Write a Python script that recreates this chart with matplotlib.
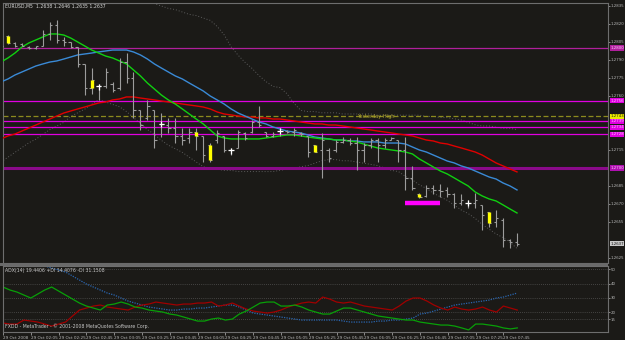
import numpy as np
import matplotlib
matplotlib.use("Agg")
import matplotlib.pyplot as plt
from matplotlib.transforms import blended_transform_factory
from matplotlib.patches import Rectangle

nan = np.nan
header_text = "EURUSD,M5  1.2638 1.2646 1.2635 1.2637"
footer_text = "FXDD - MetaTrader - \u00a9 2001-2008 MetaQuotes Software Corp."
adx_label = "ADX(14) 19.4406 +DI 14.4076 -DI 31.1508"

opens = [1.2807, 1.2810, 1.2804, 1.2803, 1.2801, 1.2800, 1.2802, 1.2812, 1.2819, 1.2807,
         1.2805, 1.2801, 1.2787, 1.2767, 1.2768, 1.2768, 1.2770, 1.2767, 1.2788, 1.2775,
         1.2748, 1.2742, 1.2748, 1.2737, 1.2736, 1.2733, 1.2727, 1.2725, 1.2730, 1.2727,
         1.2719, 1.2723, 1.2727, 1.2715, 1.2717, 1.2729, 1.2730, 1.2738, 1.2730, 1.2727,
         1.2731, 1.2731, 1.2730, 1.2729, 1.2727, 1.2719, 1.2715, 1.2715, 1.2715, 1.2722,
         1.2723, 1.2721, 1.2715, 1.2719, 1.2723, 1.2719, 1.2723, 1.2723, 1.2715, 1.2692,
         1.2678, 1.2677, 1.2683, 1.2682, 1.2682, 1.2678, 1.2671, 1.2671, 1.2671, 1.2669,
         1.2663, 1.2655, 1.2657, 1.2640, 1.2638]
highs = [1.2808, 1.2811, 1.2805, 1.2804, 1.2802, 1.2802, 1.2815, 1.2822, 1.2823, 1.2809,
         1.2805, 1.2801, 1.2787, 1.2783, 1.2770, 1.2783, 1.2772, 1.2792, 1.2796, 1.2780,
         1.2748, 1.2757, 1.2748, 1.2746, 1.2742, 1.2742, 1.2733, 1.2733, 1.2733, 1.2727,
         1.2721, 1.2732, 1.2727, 1.2717, 1.2732, 1.2730, 1.2740, 1.2752, 1.2730, 1.2730,
         1.2733, 1.2732, 1.2733, 1.2730, 1.2727, 1.2719, 1.2729, 1.2717, 1.2723, 1.2726,
         1.2725, 1.2726, 1.2721, 1.2725, 1.2725, 1.2725, 1.2726, 1.2723, 1.2726, 1.2702,
         1.2679, 1.2686, 1.2686, 1.2687, 1.2684, 1.2679, 1.2678, 1.2673, 1.2679, 1.2669,
         1.2663, 1.2665, 1.2658, 1.2641, 1.2646]
lows = [1.2801, 1.2803, 1.2801, 1.2802, 1.2799, 1.2799, 1.2802, 1.2807, 1.2804, 1.2802,
        1.2800, 1.2784, 1.2761, 1.2762, 1.2757, 1.2767, 1.2763, 1.2765, 1.2771, 1.2742,
        1.2732, 1.2740, 1.2717, 1.2726, 1.2729, 1.2721, 1.2719, 1.2721, 1.2715, 1.2705,
        1.2705, 1.2721, 1.2713, 1.2711, 1.2717, 1.2723, 1.2729, 1.2734, 1.2726, 1.2726,
        1.2727, 1.2729, 1.2727, 1.2727, 1.2709, 1.2713, 1.2692, 1.2705, 1.2713, 1.2721,
        1.2719, 1.2698, 1.2705, 1.2717, 1.2705, 1.2717, 1.2723, 1.2705, 1.2682, 1.2682,
        1.2675, 1.2676, 1.2678, 1.2676, 1.2676, 1.2667, 1.2669, 1.2667, 1.2667, 1.2648,
        1.2651, 1.2651, 1.2634, 1.2633, 1.2635]
closes = [1.2802, 1.2804, 1.2802, 1.2802, 1.2800, 1.2802, 1.2812, 1.2819, 1.2807, 1.2805,
          1.2801, 1.2787, 1.2767, 1.2773, 1.2768, 1.2780, 1.2765, 1.2788, 1.2775, 1.2748,
          1.2736, 1.2752, 1.2723, 1.2737, 1.2733, 1.2727, 1.2723, 1.2730, 1.2727, 1.2711,
          1.2707, 1.2729, 1.2715, 1.2715, 1.2730, 1.2725, 1.2738, 1.2736, 1.2727, 1.2728,
          1.2731, 1.2730, 1.2732, 1.2728, 1.2713, 1.2713, 1.2723, 1.2708, 1.2722, 1.2723,
          1.2721, 1.2715, 1.2719, 1.2723, 1.2719, 1.2723, 1.2725, 1.2715, 1.2692, 1.2683,
          1.2676, 1.2683, 1.2682, 1.2681, 1.2678, 1.2671, 1.2673, 1.2671, 1.2673, 1.2661,
          1.2654, 1.2658, 1.2640, 1.2638, 1.2637]
yellow_bars = [1, 13, 28, 30, 45, 60, 70]
white_bars = [14, 23, 33, 40, 67]

ma_green = [1.27883, 1.27917, 1.27958, 1.28008, 1.28042, 1.28067, 1.28092, 1.28117, 1.28117, 1.28108,
            1.28083, 1.28050, 1.28017, 1.27983, 1.27958, 1.27933, 1.27917, 1.27892, 1.27867, 1.27817,
            1.27767, 1.27708, 1.27658, 1.27608, 1.27567, 1.27533, 1.27492, 1.27450, 1.27408, 1.27367,
            1.27317, 1.27267, 1.27250, 1.27242, 1.27242, 1.27242, 1.27242, 1.27242, 1.27250, 1.27258,
            1.27267, 1.27275, 1.27275, 1.27267, 1.27258, 1.27250, 1.27242, 1.27242, 1.27233, 1.27233,
            1.27225, 1.27217, 1.27200, 1.27183, 1.27167, 1.27158, 1.27150, 1.27142, 1.27133, 1.27117,
            1.27075, 1.27042, 1.27008, 1.26975, 1.26950, 1.26917, 1.26883, 1.26850, 1.26800, 1.26767,
            1.26742, 1.26725, 1.26692, 1.26658, 1.26625]
ma_blue = [1.27717, 1.27742, 1.27775, 1.27800, 1.27825, 1.27850, 1.27867, 1.27883, 1.27892, 1.27908,
           1.27925, 1.27942, 1.27950, 1.27958, 1.27967, 1.27975, 1.27983, 1.27983, 1.27983, 1.27967,
           1.27942, 1.27908, 1.27867, 1.27833, 1.27800, 1.27767, 1.27742, 1.27708, 1.27675, 1.27642,
           1.27600, 1.27567, 1.27533, 1.27492, 1.27458, 1.27433, 1.27408, 1.27383, 1.27367, 1.27342,
           1.27325, 1.27308, 1.27300, 1.27292, 1.27275, 1.27258, 1.27250, 1.27242, 1.27233, 1.27233,
           1.27225, 1.27225, 1.27217, 1.27217, 1.27217, 1.27208, 1.27208, 1.27208, 1.27200, 1.27175,
           1.27150, 1.27133, 1.27108, 1.27083, 1.27058, 1.27042, 1.27017, 1.27000, 1.26975, 1.26950,
           1.26925, 1.26908, 1.26875, 1.26850, 1.26817]
ma_red = [1.27242, 1.27267, 1.27283, 1.27308, 1.27333, 1.27358, 1.27383, 1.27408, 1.27433, 1.27458,
          1.27475, 1.27492, 1.27508, 1.27525, 1.27542, 1.27550, 1.27567, 1.27575, 1.27592, 1.27592,
          1.27583, 1.27575, 1.27567, 1.27558, 1.27550, 1.27542, 1.27533, 1.27525, 1.27517, 1.27508,
          1.27492, 1.27467, 1.27450, 1.27442, 1.27433, 1.27425, 1.27425, 1.27417, 1.27417, 1.27408,
          1.27408, 1.27400, 1.27392, 1.27383, 1.27375, 1.27367, 1.27367, 1.27358, 1.27358, 1.27350,
          1.27342, 1.27333, 1.27325, 1.27317, 1.27308, 1.27300, 1.27292, 1.27283, 1.27275, 1.27267,
          1.27250, 1.27233, 1.27225, 1.27208, 1.27200, 1.27183, 1.27167, 1.27150, 1.27133, 1.27108,
          1.27075, 1.27042, 1.27017, 1.26992, 1.26967]
band_upper = [nan, nan, nan, nan, nan, nan, nan, nan, nan, nan,
              nan, nan, nan, nan, 1.2838, 1.2838, 1.2839, 1.2840, 1.2840, 1.2839,
              1.2839, 1.2838, 1.2837, 1.2835, 1.2833, 1.2832, 1.2830, 1.2828, 1.2827, 1.2825,
              1.2823, 1.2818, 1.2811, 1.2801, 1.2794, 1.2788, 1.2783, 1.2777, 1.2772, 1.2768,
              1.2767, 1.2762, 1.2754, 1.2748, 1.2747, 1.2747, 1.2746, 1.2746, 1.2746, 1.2745,
              1.2745, 1.2745, 1.2745, 1.2745, 1.2744, 1.2744, 1.2744, 1.2744, 1.2744, 1.2744,
              1.2744, 1.2743, 1.2743, 1.2742, 1.2742, 1.2741, 1.2740, 1.2738, 1.2736, 1.2735,
              1.2735, 1.2734, 1.2733, 1.2733, 1.2732]
band_lower = [1.2705, 1.2709, 1.2713, 1.2717, 1.2721, 1.2724, 1.2728, 1.2732, 1.2735, 1.2738,
              1.2743, 1.2746, 1.2749, 1.2753, 1.2757, 1.2755, 1.2753, 1.2751, 1.2747, 1.2742,
              1.2737, 1.2732, 1.2728, 1.2723, 1.2719, 1.2716, 1.2713, 1.2709, 1.2705, 1.2701,
              1.2700, 1.2699, 1.2698, 1.2698, 1.2697, 1.2697, 1.2697, 1.2697, 1.2697, 1.2697,
              1.2698, 1.2699, 1.2700, 1.2701, 1.2702, 1.2704, 1.2706, 1.2707, 1.2707, 1.2706,
              1.2706, 1.2705, 1.2704, 1.2703, 1.2702, 1.2700, 1.2698, 1.2697, 1.2693, 1.2690,
              1.2686, 1.2683, 1.2679, 1.2676, 1.2673, 1.2669, 1.2665, 1.2662, 1.2658, 1.2653,
              1.2649, 1.2645, 1.2642, 1.2638, 1.2633]

level_prices = [1.2800, 1.2756, 1.2739, 1.2734, 1.2728]
support_price = 1.2700
yesterday_high = 1.2743
order_price = 1.2671
order_from, order_to = 58, 63
last_price = 1.2637
price_ticks = [1.2835, 1.2820, 1.2805, 1.2790, 1.2775, 1.2760,
               1.2715, 1.2685, 1.2670, 1.2655, 1.2625]

adx_green = [37.6, 35.5, 34.1, 32.0, 29.9, 32.7, 35.5, 37.6, 34.8, 32.0,
             29.2, 26.4, 24.3, 22.9, 21.5, 25.0, 25.7, 27.1, 25.7, 23.6,
             22.9, 21.5, 20.8, 20.1, 18.7, 18.0, 16.6, 15.2, 13.8, 13.8,
             15.2, 15.9, 14.5, 15.2, 18.7, 20.8, 23.6, 26.4, 27.1, 27.1,
             24.3, 24.3, 25.0, 23.6, 21.5, 20.1, 18.7, 18.7, 20.8, 22.9,
             22.9, 21.5, 20.1, 18.7, 17.3, 16.6, 15.9, 15.2, 14.5, 14.5,
             13.1, 12.4, 11.7, 11.0, 11.0, 10.3, 9.0, 7.6, 11.7, 11.7,
             11.0, 10.3, 9.0, 8.3, 9.0]
adx_red = [12.4, 11.7, 11.7, 14.5, 13.8, 13.1, 11.7, 10.3, 11.7, 13.1,
           17.3, 21.5, 22.9, 24.3, 25.0, 23.6, 22.9, 22.2, 21.5, 23.6,
           25.0, 25.7, 27.1, 26.4, 25.7, 25.0, 25.7, 25.7, 26.4, 26.4,
           27.1, 24.3, 25.0, 26.4, 24.3, 22.2, 20.8, 20.1, 19.4, 20.1,
           21.5, 23.6, 25.0, 26.4, 27.1, 26.4, 30.6, 29.2, 27.1, 26.4,
           27.1, 25.7, 24.3, 23.6, 22.9, 22.2, 21.5, 24.3, 27.8, 29.9,
           29.9, 27.8, 25.0, 22.9, 21.5, 23.6, 22.2, 21.5, 22.2, 23.6,
           21.5, 20.1, 24.3, 22.9, 21.5]
adx_blue = [nan, nan, nan, nan, nan, nan, 52.3, 50.9, 49.5, 48.1,
            45.3, 42.5, 39.7, 37.6, 35.5, 33.4, 32.0, 29.9, 27.8, 26.4,
            25.0, 23.6, 22.9, 22.2, 21.5, 21.5, 22.2, 22.2, 22.9, 22.9,
            23.6, 24.3, 25.0, 25.0, 23.6, 21.5, 19.4, 18.7, 18.0, 17.3,
            16.6, 15.9, 15.2, 14.5, 14.5, 14.5, 14.5, 14.5, 14.5, 13.8,
            13.1, 13.1, 13.1, 13.1, 13.8, 13.8, 14.5, 14.5, 15.2, 15.9,
            18.7, 19.4, 20.8, 22.2, 23.6, 25.0, 25.7, 26.4, 27.1, 27.8,
            28.5, 29.9, 30.6, 32.0, 33.4]
adx_levels = [50, 40, 30, 20, 15]

time_tick_bars = list(range(0, 75, 4))
time_labels = ["29 Oct 2008", "29 Oct 02:05", "29 Oct 02:25", "29 Oct 02:45", "29 Oct 03:05",
               "29 Oct 03:25", "29 Oct 03:45", "29 Oct 04:05", "29 Oct 04:25", "29 Oct 04:45",
               "29 Oct 05:05", "29 Oct 05:25", "29 Oct 05:45", "29 Oct 06:05", "29 Oct 06:25",
               "29 Oct 06:45", "29 Oct 07:05", "29 Oct 07:25", "29 Oct 07:45"]

# ---------------------------------------------------------------- drawing
BG = "#1b1a17"
GRID = "#6e6e6e"
TXT = "#b8b8b8"
W, H = 625, 340

fig = plt.figure(figsize=(W / 100, H / 100), dpi=100, facecolor=BG)
ax = fig.add_axes([3 / W, 1 - 263 / H, 605 / W, 260 / H], facecolor=BG)
ax2 = fig.add_axes([3 / W, 1 - 332 / H, 605 / W, 66 / H], facecolor=BG)

n = len(closes)
x = np.arange(n)
for a in (ax, ax2):
    a.set_xlim(0.287, 87.05)
    for s in a.spines.values():
        s.set_color(GRID)
        s.set_linewidth(0.8)
ax.set_ylim(1.26208, 1.28375)
ax2.set_ylim(6.15, 52.3)

# bands (dim dotted)
ax.plot(x, band_upper, color="#5c5c5c", lw=0.7, ls=(0, (1, 2)))
ax.plot(x, band_lower, color="#5c5c5c", lw=0.7, ls=(0, (1, 2)))

# horizontal levels
level_colors = ["#b0209c", "#e000e0", "#e000e0", "#e000e0", "#e000e0"]
for p, c in zip(level_prices, level_colors):
    ax.axhline(p, color=c, lw=0.9, zorder=2)
ax.axhline(support_price, color="#8a0a8a", lw=2.2, zorder=2)
ax.axhline(yesterday_high, color="#8c8a1e", lw=0.9, ls=(0, (4, 2)), zorder=2)
ax.text(51, yesterday_high - 0.00004, "Yesterday High", color="#b0a630",
        fontsize=3.6, va="center", ha="left", zorder=3)
ax.hlines(order_price, order_from, order_to, color="#ff00ff", lw=3.2, zorder=5)

# moving averages
ax.plot(x, ma_red, color="#e00000", lw=1.0, zorder=3)
ax.plot(x, ma_blue, color="#3a8ad6", lw=1.0, zorder=3)
ax.plot(x, ma_green, color="#10d010", lw=1.0, zorder=3)

# OHLC bars
bar_col = "#9c9c9c"
ax.vlines(x, lows, highs, color=bar_col, lw=0.8, zorder=4)
ax.hlines(opens, x - 0.32, x, color=bar_col, lw=0.8, zorder=4)
ax.hlines(closes, x, x + 0.32, color=bar_col, lw=0.8, zorder=4)
for i in yellow_bars:
    lo, hi = min(opens[i], closes[i]), max(opens[i], closes[i])
    ax.vlines(i, lo, hi, color="#ffff00", lw=2.4, zorder=5)
for i in white_bars:
    ax.hlines(closes[i], i - 0.4, i + 0.4, color="white", lw=0.9, zorder=5)
    ax.vlines(i, closes[i] - 0.0003, closes[i] + 0.0002, color="white", lw=0.9, zorder=5)

# price axis
ax.yaxis.tick_right()
ax.set_yticks(price_ticks)
ax.set_yticklabels([f"{p:.4f}" for p in price_ticks])
ax.tick_params(axis="y", labelsize=2.8, colors=TXT, length=1.5, width=0.5, pad=0.6)
ax.tick_params(axis="x", bottom=False, labelbottom=False)

bt = blended_transform_factory(ax.transAxes, ax.transData)
box_specs = [(p, c, "#ffc8ff") for p, c in zip(level_prices, level_colors)]
box_specs += [(support_price, "#b010b0", "#ffc8ff"),
              (yesterday_high, "#e8e800", "#202000"),
              (last_price, "#c8c8c8", "#101010")]
for p, fc, tc in box_specs:
    ax.text(1.0035, p, f"{p:.4f}", transform=bt, fontsize=2.8, color=tc,
            va="center", ha="left", clip_on=False, zorder=10,
            bbox=dict(boxstyle="square,pad=0.15", fc=fc, ec="none"))

fig.text(5 / W, 1 - 6 / H, header_text, fontsize=3.3, color="#d8d8d8", va="center")

# ADX panel
for lv in adx_levels:
    ax2.axhline(lv, color="#6a6a6a", lw=0.5, ls=(0, (1, 2)))
ax2.plot(x, adx_blue, color="#2a66b0", lw=0.9, ls=(0, (1, 1)))
ax2.plot(x, adx_red, color="#a00000", lw=0.9)
ax2.plot(x, adx_green, color="#08a008", lw=0.9)
ax2.yaxis.tick_right()
ax2.set_yticks(adx_levels)
ax2.set_yticklabels([str(v) for v in adx_levels])
ax2.tick_params(axis="y", labelsize=2.8, colors=TXT, length=1.5, width=0.5, pad=0.6)
ax2.set_xticks(time_tick_bars)
ax2.set_xticklabels(time_labels, ha="left")
ax2.tick_params(axis="x", labelsize=3.0, colors=TXT, length=2, width=0.5, pad=0.8)
ax2.text(0.003, 0.97, adx_label, transform=ax2.transAxes, fontsize=3.3,
         color="#c8c8c8", va="top", ha="left")
ax2.text(0.003, 0.04, footer_text, transform=ax2.transAxes, fontsize=3.3,
         color="#c8c8c8", va="bottom", ha="left")

# splitter bar between panels
fig.patches.append(Rectangle((0, 1 - 265.5 / H), 608 / W, 3 / H,
                             transform=fig.transFigure, fc="#6a6a6a", ec="none"))

fig.savefig("out.png", dpi=100, facecolor=BG)
